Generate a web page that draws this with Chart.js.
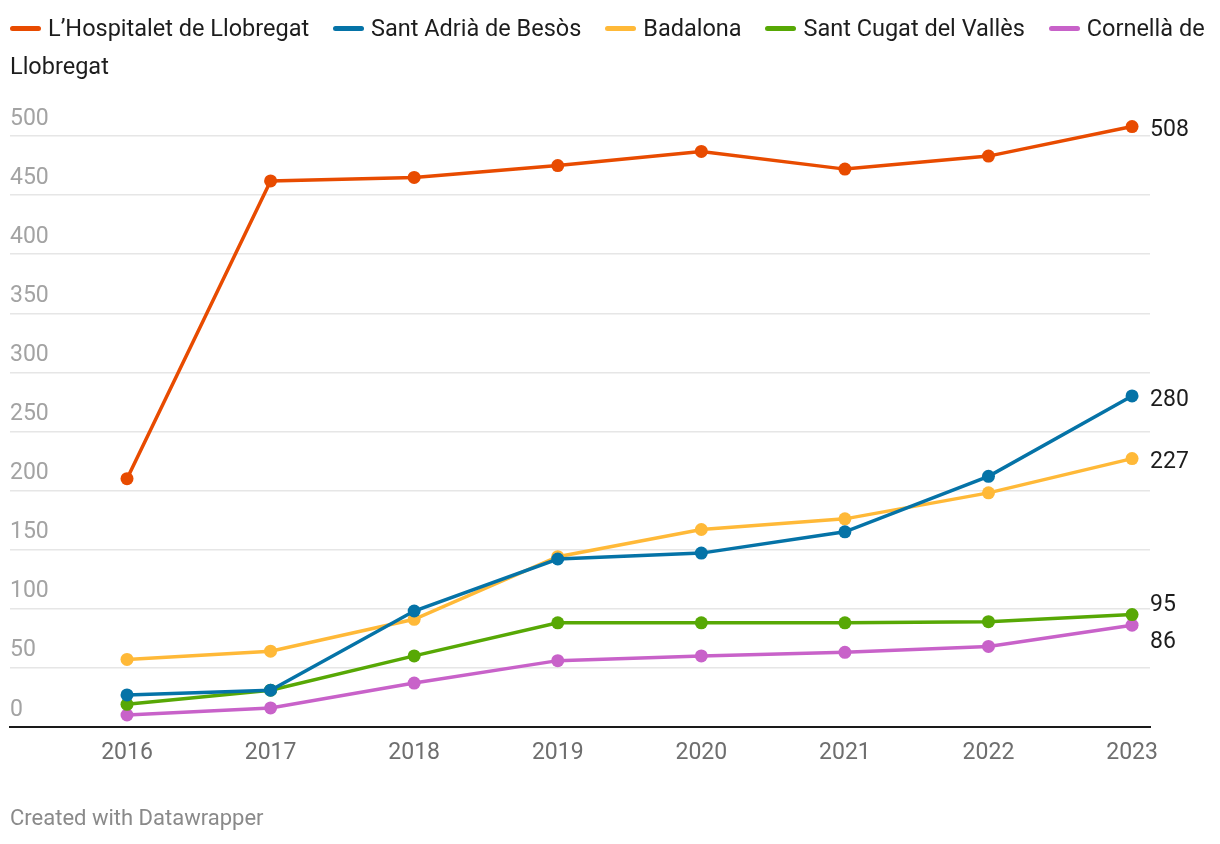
<!DOCTYPE html>
<html lang="ca">
<head>
<meta charset="UTF-8">
<title>Datawrapper line chart</title>
<script src="https://cdn.jsdelivr.net/npm/chart.js"></script>
<style>
    body {
        margin: 0;
        background: #fff;
        font-family: Roboto, "Noto Sans", sans-serif;
    }
    #wrap {
        position: relative;
        width: 1220px;
        height: 844px;
    }
    #legend {
        position: absolute;
        left: 10px;
        top: 9px;
        width: 1200px;
        font-size: 23.5px;
        line-height: 38px;
        color: #1d1d1d;
    }
    .item {
        margin-right: 18px;
    }
    .key {
        display: inline-block;
        width: 31px;
        height: 5px;
        border-radius: 3px;
        margin-right: 7px;
        vertical-align: middle;
        position: relative;
        top: -1px;
    }
    #chart {
        position: absolute;
        left: 0;
        top: 0;
    }
    #footer {
        position: absolute;
        left: 10px;
        top: 805px;
        font-size: 22px;
        color: #8a8a8a;
    }
</style>
</head>
<body>
<div id="wrap">
    <canvas id="chart" width="1220" height="844"></canvas>
    <div id="legend"></div>
    <div id="footer">Created with Datawrapper</div>
</div>

<script>
    // data
    const years = [2016, 2017, 2018, 2019, 2020, 2021, 2022, 2023];
    const seriesNames = ['L\u2019Hospitalet de Llobregat', 'Sant Adrià de Besòs', 'Badalona', 'Sant Cugat del Vallès', 'Cornellà de Llobregat'];
    const hospitalet = [210, 462, 465, 475, 487, 472, 483, 508];
    const santAdria = [27, 31, 98, 142, 147, 165, 212, 280];
    const badalona = [57, 64, 91, 144, 167, 176, 198, 227];
    const santCugat = [19, 31, 60, 88, 88, 88, 89, 95];
    const cornella = [10, 16, 37, 56, 60, 63, 68, 86];
    const yTicks = [0, 50, 100, 150, 200, 250, 300, 350, 400, 450, 500];

    const colors = ['#e84b00', '#0573a7', '#ffb938', '#57a805', '#c862c9'];
    const allValues = [hospitalet, santAdria, badalona, santCugat, cornella];

    // html legend (wraps like the original)
    const legend = document.getElementById('legend');
    seriesNames.forEach((name, i) => {
        const span = document.createElement('span');
        span.className = 'item';
        span.innerHTML = '<span class="key" style="background:' + colors[i] + '"></span>' + name;
        legend.appendChild(span);
        legend.appendChild(document.createTextNode(' '));
    });

    // last-value labels on the right, pushed apart when they collide
    const endLabels = {
        id: 'endLabels',
        afterDatasetsDraw(chart) {
            const ctx = chart.ctx;
            const items = chart.data.datasets.map((ds, i) => {
                const pt = chart.getDatasetMeta(i).data[ds.data.length - 1];
                return { text: String(ds.data[ds.data.length - 1].y), x: pt.x, y: pt.y + 4 };
            }).sort((a, b) => a.y - b.y);
            const gap = 37;
            for (let k = 0; k < 10; k++) {
                for (let i = 1; i < items.length; i++) {
                    const d = items[i].y - items[i - 1].y;
                    if (d < gap) {
                        const push = (gap - d) / 2;
                        items[i - 1].y -= push;
                        items[i].y += push;
                    }
                }
            }
            ctx.save();
            ctx.font = '23px Roboto';
            ctx.fillStyle = '#1d1d1d';
            ctx.textAlign = 'left';
            ctx.textBaseline = 'middle';
            items.forEach(it => ctx.fillText(it.text, it.x + 18, it.y));
            ctx.restore();
        }
    };

    const ctx = document.getElementById('chart').getContext('2d');
    const myChart = new Chart(ctx, {
        type: 'line',
        data: {
            datasets: seriesNames.map((name, i) => ({
                label: name,
                data: years.map((yr, j) => ({ x: yr, y: allValues[i][j] })),
                borderColor: colors[i],
                backgroundColor: colors[i],
                borderWidth: 3.5,
                pointRadius: 6.5,
                pointBorderWidth: 0,
                pointHoverRadius: 6.5,
                tension: 0,
                clip: false
            }))
        },
        options: {
            responsive: false,
            animation: false,
            events: [],
            layout: {
                padding: { left: 10, right: 70, top: 112.4, bottom: 63.6 }
            },
            plugins: {
                legend: { display: false },
                tooltip: { enabled: false }
            },
            scales: {
                x: {
                    type: 'linear',
                    min: 2015.185,
                    max: 2023.125,
                    afterBuildTicks: axis => { axis.ticks = years.map(v => ({ value: v })); },
                    grid: { display: false, drawTicks: false },
                    border: { display: true, color: '#1a1a1a', width: 2 },
                    ticks: {
                        padding: 13,
                        color: '#6e6e6e',
                        font: { family: 'Roboto', size: 23 },
                        callback: v => String(v)
                    }
                },
                y: {
                    min: 0,
                    max: 520,
                    afterBuildTicks: axis => { axis.ticks = yTicks.map(v => ({ value: v })); },
                    grid: {
                        drawTicks: false,
                        color: ctx => ctx.tick && ctx.tick.value === 0 ? 'rgba(0,0,0,0)' : '#e6e6e6',
                        lineWidth: 1.5
                    },
                    border: { display: false },
                    ticks: {
                        mirror: true,
                        padding: 0,
                        labelOffset: -17,
                        color: '#a3a3a3',
                        font: { family: 'Roboto', size: 23 }
                    }
                }
            }
        },
        plugins: [endLabels]
    });
</script>
</body>
</html>
